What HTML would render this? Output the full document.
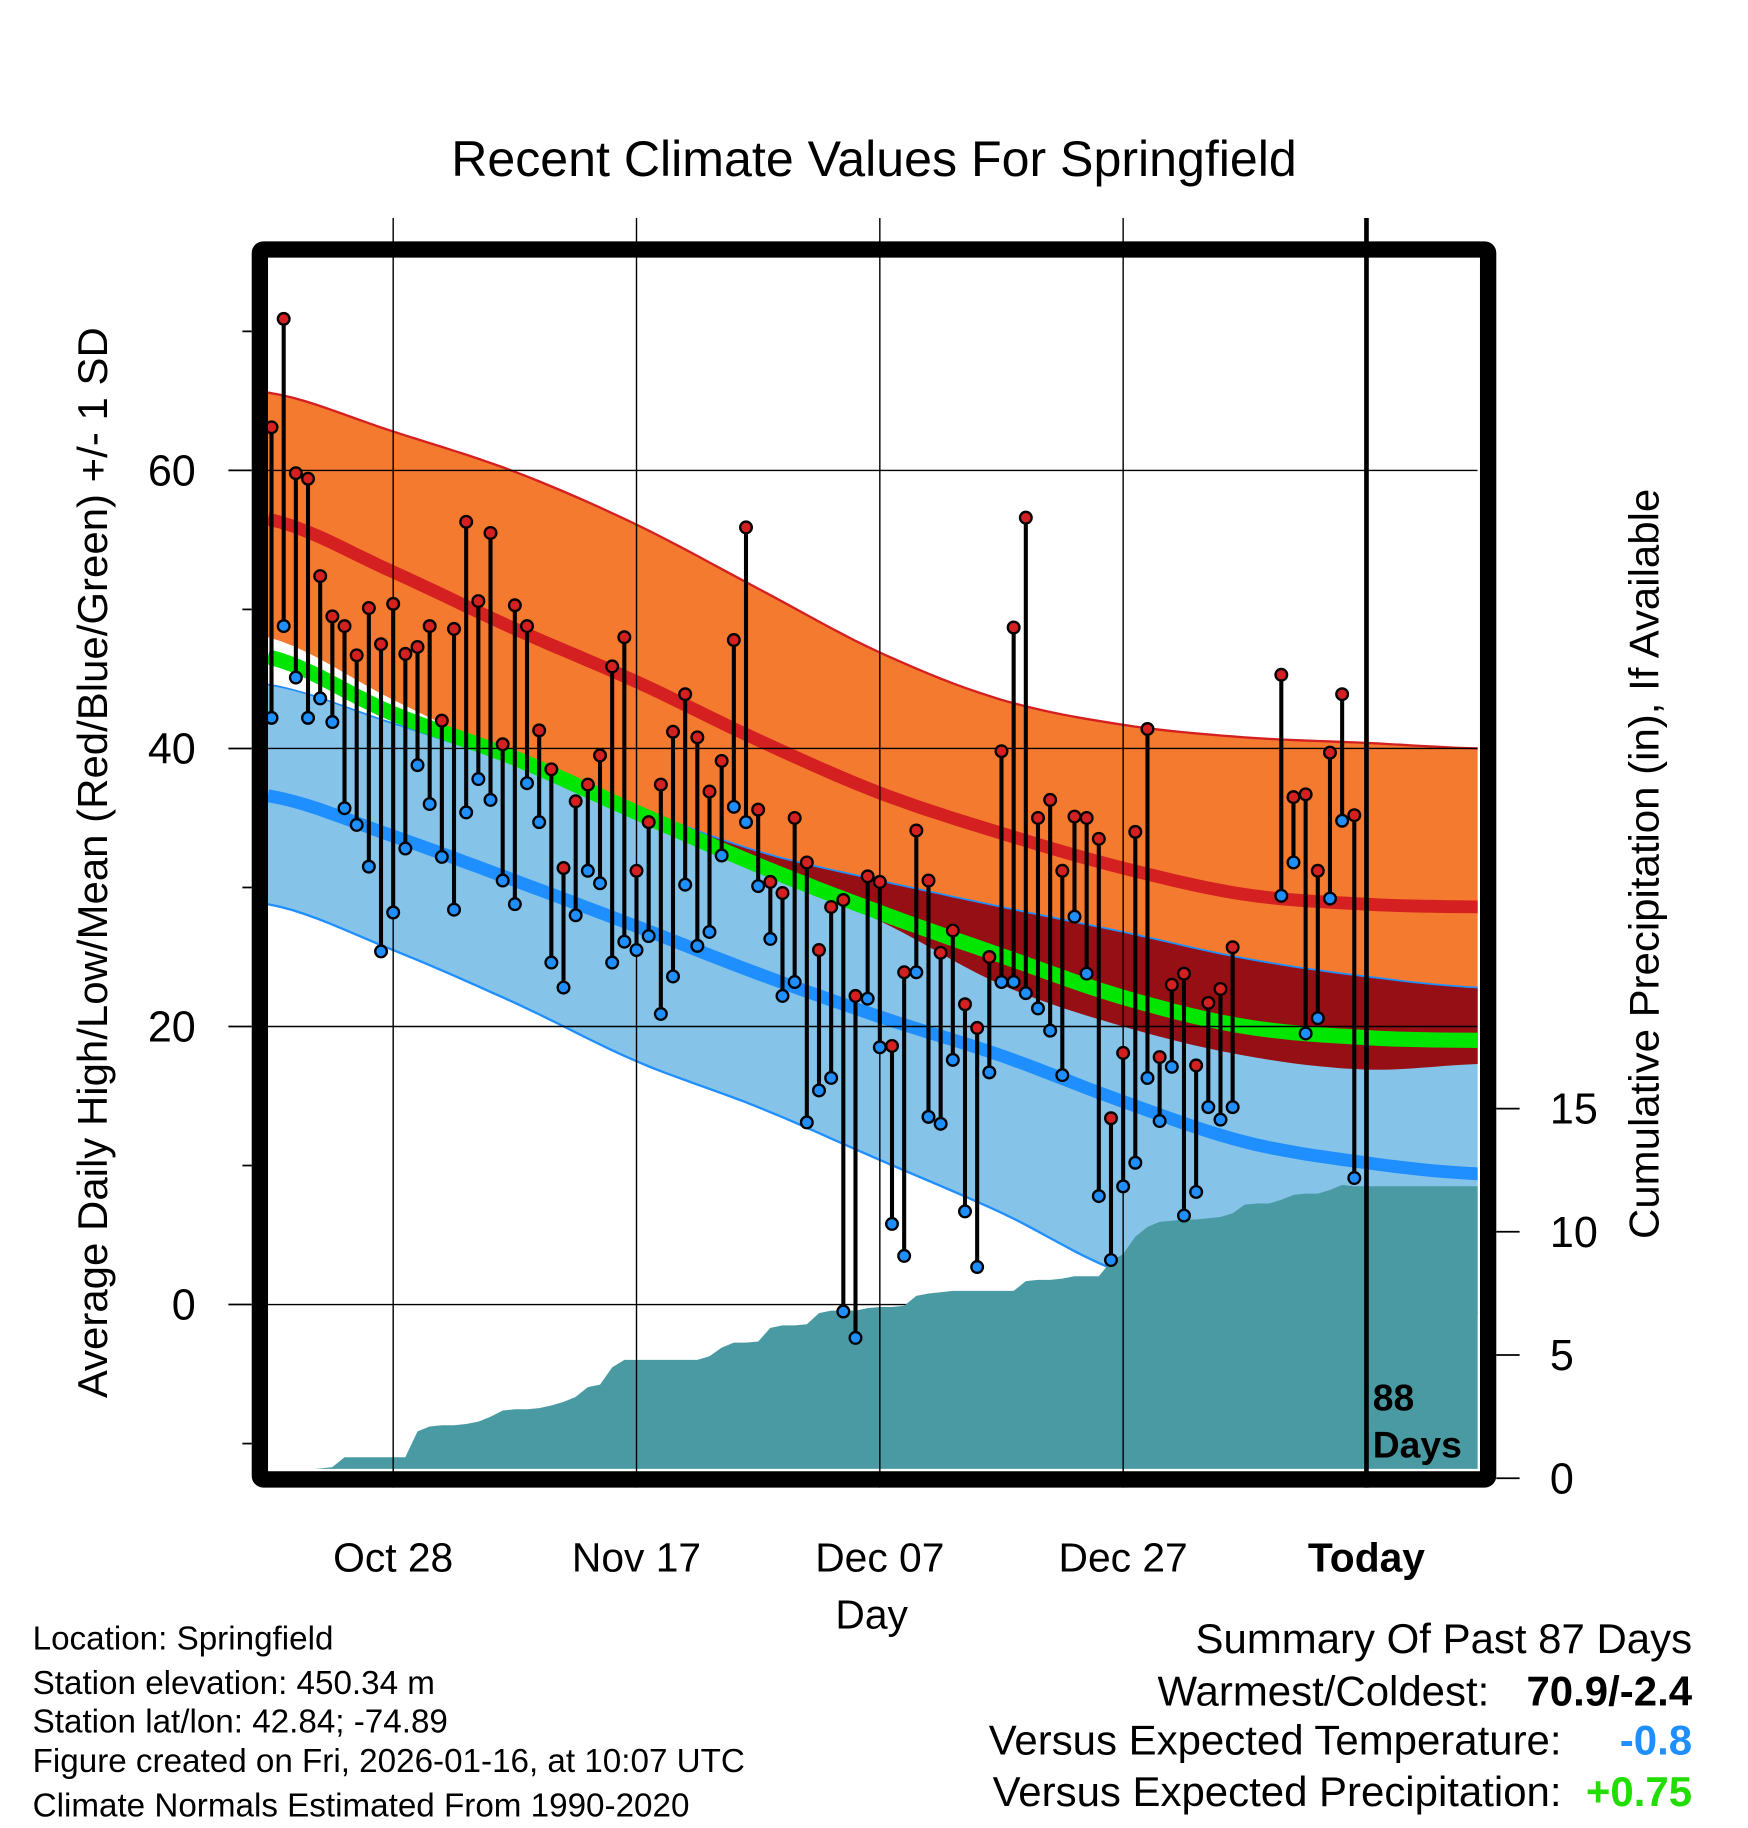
<!DOCTYPE html>
<html><head><meta charset="utf-8"><style>
html,body{margin:0;padding:0;background:#fff;}
svg{display:block;}
text{font-family:"Liberation Sans",sans-serif;}
</style></head><body>
<svg id="chart" width="1748" height="1828" viewBox="0 0 1500 1568" preserveAspectRatio="none" xmlns="http://www.w3.org/2000/svg">
<defs><clipPath id="plotclip"><rect x="230" y="220" width="1038" height="1040"/></clipPath></defs>
<text x="750" y="151" font-size="43" text-anchor="middle">Recent Climate Values For Springfield</text>
<g id="plot" clip-path="url(#plotclip)"></g>
<g id="over"></g>
<text transform="translate(92,740) rotate(-90)" font-size="36" text-anchor="middle">Average Daily High/Low/Mean (Red/Blue/Green) +/- 1 SD</text>
<text transform="translate(1423,741) rotate(-90)" font-size="36" text-anchor="middle">Cumulative Precipitation (in), If Available</text>
<text x="748" y="1397" font-size="35" text-anchor="middle">Day</text>
<g font-size="28.5">
<text x="28" y="1415">Location: Springfield</text>
<text x="28" y="1453">Station elevation: 450.34 m</text>
<text x="28" y="1486">Station lat/lon: 42.84; -74.89</text>
<text x="28" y="1520">Figure created on Fri, 2026-01-16, at 10:07 UTC</text>
<text x="28" y="1558">Climate Normals Estimated From 1990-2020</text>
</g>
<g font-size="36" text-anchor="end">
<text x="1452" y="1418">Summary Of Past 87 Days</text>
<text x="1278" y="1463">Warmest/Coldest:</text>
<text x="1452" y="1463" font-weight="bold">70.9/-2.4</text>
<text x="1340" y="1505">Versus Expected Temperature:</text>
<text x="1452" y="1505" font-weight="bold" fill="#1f8fff">-0.8</text>
<text x="1340" y="1549">Versus Expected Precipitation:</text>
<text x="1452" y="1549" font-weight="bold" fill="#22dd00">+0.75</text>
</g>
</svg>
<script>
const highs=[63.1,70.9,59.8,59.4,52.4,49.5,48.8,46.7,50.1,47.5,50.4,46.8,47.3,48.8,42.0,48.6,56.3,50.6,55.5,40.3,50.3,48.8,41.3,38.5,31.4,36.2,37.4,39.5,45.9,48.0,31.2,34.7,37.4,41.2,43.9,40.8,36.9,39.1,47.8,55.9,35.6,30.4,29.6,35.0,31.8,25.5,28.6,29.1,22.2,30.8,30.4,18.6,23.9,34.1,30.5,25.3,26.9,21.6,19.9,25.0,39.8,48.7,56.6,35.0,36.3,31.2,35.1,35.0,33.5,13.4,18.1,34.0,41.4,17.8,23.0,23.8,17.2,21.7,22.7,25.7,null,null,null,45.3,36.5,36.7,31.2,39.7,43.9,35.2];
const lows=[42.2,48.8,45.1,42.2,43.6,41.9,35.7,34.5,31.5,25.4,28.2,32.8,38.8,36.0,32.2,28.4,35.4,37.8,36.3,30.5,28.8,37.5,34.7,24.6,22.8,28.0,31.2,30.3,24.6,26.1,25.5,26.5,20.9,23.6,30.2,25.8,26.8,32.3,35.8,34.7,30.1,26.3,22.2,23.2,13.1,15.4,16.3,-0.5,-2.4,22.0,18.5,5.8,3.5,23.9,13.5,13.0,17.6,6.7,2.7,16.7,23.2,23.2,22.4,21.3,19.7,16.5,27.9,23.8,7.8,3.2,8.5,10.2,16.3,13.2,17.1,6.4,8.1,14.2,13.3,14.2,null,null,null,29.4,31.8,19.5,20.6,29.2,34.8,9.1];
const precip=[0.3,0.3,0.3,0.35,0.4,0.45,0.85,0.85,0.85,0.85,0.85,0.85,1.9,2.1,2.15,2.15,2.2,2.3,2.5,2.75,2.8,2.8,2.85,2.95,3.1,3.3,3.7,3.8,4.5,4.8,4.8,4.8,4.8,4.8,4.8,4.8,4.95,5.3,5.5,5.5,5.55,6.1,6.2,6.2,6.25,6.7,6.8,6.8,6.8,6.9,6.95,6.95,7.0,7.4,7.5,7.55,7.6,7.6,7.6,7.6,7.6,7.6,8.0,8.05,8.05,8.1,8.2,8.2,8.2,8.8,9.1,9.8,10.2,10.4,10.45,10.5,10.5,10.55,10.6,10.75,11.1,11.15,11.15,11.3,11.5,11.55,11.55,11.7,11.9,11.85];
const knotDays=[-0.3,10,20,30,40,50,60,70,80,90,99.2];
const hiTop=[65.6,62.8,59.9,56.1,51.5,46.9,43.5,41.7,40.8,40.4,40.0];
const hiMean=[56.5,52.7,48.6,44.8,40.6,36.8,33.9,31.4,29.5,28.8,28.6];
const hiBot=[48.0,43.5,39.3,35.1,31.4,27.6,23.0,20.0,17.9,16.9,17.3];
const loTop=[44.6,41.8,38.9,35.7,32.6,30.5,28.6,26.8,24.9,23.6,22.8];
const loMean=[36.6,33.7,30.5,27.2,23.8,20.7,17.9,14.6,11.7,10.2,9.4];
const loBot=[28.8,25.5,21.7,17.5,14.2,10.4,6.6,2.3,0.8,-0.2,-0.6];
const avgMean=[46.6,42.5,39.3,35.4,31.6,28.2,25.1,22.1,20.0,19.2,19.0];
const yTicks=[60,40,20,0];
const yMinor=[70,50,30,10,-10];
const pTicks=[0,5,10,15];
const xTickDays=[10,30,50,70,90];
const xTickLabels=["Oct 28","Nov 17","Dec 07","Dec 27","Today"];

const NS="http://www.w3.org/2000/svg";
const xs=d=>233+10.44*d;
const ys=v=>1119-11.925*v;
const yp=p=>1268-21.14*p;
const plot=document.getElementById('plot');
const over=document.getElementById('over');
function mk(tag,attrs,parent){const e=document.createElementNS(NS,tag);for(const k in attrs)e.setAttribute(k,attrs[k]);parent.appendChild(e);return e;}
function sample(vals){const pts=[];const n=knotDays.length;
 for(let i=0;i<n-1;i++){const p0=vals[Math.max(i-1,0)],p1=vals[i],p2=vals[i+1],p3=vals[Math.min(i+2,n-1)];
  for(let s=0;s<10;s++){const t=s/10;const v=0.5*((2*p1)+(-p0+p2)*t+(2*p0-5*p1+4*p2-p3)*t*t+(-p0+3*p1-3*p2+p3)*t*t*t);
   pts.push([knotDays[i]+(knotDays[i+1]-knotDays[i])*t,v]);}}
 pts.push([knotDays[n-1],vals[n-1]]);return pts;}
function line(pts){return pts.map((p,i)=>(i?'L':'M')+xs(p[0]).toFixed(1)+','+ys(p[1]).toFixed(1)).join('');}
function band(top,bot){return line(top)+bot.slice().reverse().map(p=>'L'+xs(p[0]).toFixed(1)+','+ys(p[1]).toFixed(1)).join('')+'Z';}
const sHT=sample(hiTop),sHM=sample(hiMean),sHB=sample(hiBot),sLT=sample(loTop),sLM=sample(loMean),sLB=sample(loBot),sAM=sample(avgMean);
let e;
e=mk('path',{d:band(sHT,sHB),fill:'#f47a30',stroke:'none'},plot);


e=mk('path',{d:line(sHT),fill:'none',stroke:'#d42020','stroke-width':2},plot);


e=mk('path',{d:band(sLT,sLB),fill:'#86c3e8',stroke:'none'},plot);


const ov=sLT.map((p,i)=>[p[0],Math.min(sHB[i][1],p[1])]);
e=mk('path',{d:band(sLT,ov),fill:'#960f14',stroke:'none'},plot);


e=mk('path',{d:line(sLT),fill:'none',stroke:'#1f8fff','stroke-width':1.5},plot);


e=mk('path',{d:line(sLB),fill:'none',stroke:'#1f8fff','stroke-width':2},plot);


e=mk('path',{d:line(sAM),fill:'none',stroke:'#00e600','stroke-width':13},plot);


e=mk('path',{d:line(sHM),fill:'none',stroke:'#d42020','stroke-width':11},plot);


e=mk('path',{d:line(sLM),fill:'none',stroke:'#1f8fff','stroke-width':11},plot);


yTicks.forEach(v=>{e=mk('line',{x1:230,x2:1268,y1:ys(v),y2:ys(v),stroke:'#000','stroke-width':1.2},plot);

});
let pd='M'+xs(0)+','+1262;
precip.forEach((p,i)=>{pd+='L'+xs(i).toFixed(1)+','+yp(p).toFixed(1);});
pd+='L'+xs(99.5).toFixed(1)+','+yp(precip[precip.length-1]).toFixed(1)+'L'+xs(99.5).toFixed(1)+',1262L'+(xs(-1))+',1262Z';
e=mk('path',{d:pd,fill:'#4a9aa4',stroke:'none'},plot);


xTickDays.forEach((d,i)=>{const today=i===xTickDays.length-1;
 e=mk('line',{x1:xs(d),x2:xs(d),y1:187,y2:1276,stroke:'#000','stroke-width':today?4:1.2},over);
 
 
 e=mk('text',{x:xs(d),y:1348,'font-size':35,'text-anchor':'middle','font-weight':today?'bold':'normal'},over);
 e.textContent=xTickLabels[i];
 
 });
highs.forEach((h,i)=>{const l=lows[i];if(h===null||l===null)return;
 e=mk('line',{x1:xs(i),x2:xs(i),y1:ys(h),y2:ys(l),stroke:'#000','stroke-width':3.5},over);
 
 });
highs.forEach((h,i)=>{const l=lows[i];if(h===null||l===null)return;
 e=mk('circle',{cx:xs(i),cy:ys(h),r:5,fill:'#d42020',stroke:'#000','stroke-width':2},over);
 
 
 e=mk('circle',{cx:xs(i),cy:ys(l),r:5,fill:'#1f8fff',stroke:'#000','stroke-width':2},over);
 
 });
e=mk('rect',{x:223,y:214,width:1054,height:1055,fill:'none',stroke:'#000','stroke-width':14,rx:3},over);


yTicks.forEach(v=>{e=mk('line',{x1:196,x2:216,y1:ys(v),y2:ys(v),stroke:'#000','stroke-width':1.5},over);
 
 
 e=mk('text',{x:168,y:ys(v)+13,'font-size':37,'text-anchor':'end'},over);e.textContent=v;
 
 });
yMinor.forEach(v=>{e=mk('line',{x1:208,x2:216,y1:ys(v),y2:ys(v),stroke:'#000','stroke-width':1.5},over);
 
 });
pTicks.forEach(p=>{e=mk('line',{x1:1284,x2:1304,y1:yp(p),y2:yp(p),stroke:'#000','stroke-width':1.5},over);
 
 
 e=mk('text',{x:1330,y:yp(p)+13,'font-size':37},over);e.textContent=p;
 
 });
e=mk('text',{x:1178,y:1210,'font-size':32,'font-weight':'bold'},over);e.textContent='88';


e=mk('text',{x:1178,y:1250,'font-size':32,'font-weight':'bold'},over);e.textContent='Days';


</script>
</body></html>
